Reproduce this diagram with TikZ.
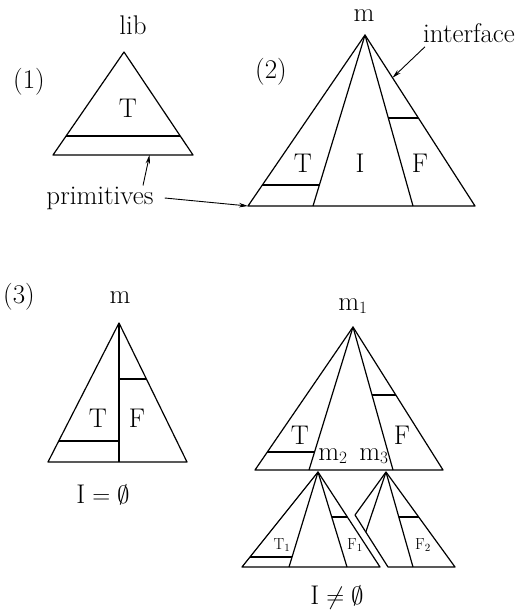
\documentclass[tikz,border=0pt]{standalone}
\usepackage{amssymb}
\usepackage{fontspec}
\usepackage{tikz}
\usetikzlibrary{calc,arrows.meta}

\begin{document}
\begin{tikzpicture}[x=1pt, y=-1pt, every node/.style={font=\fontsize{27}{30}\selectfont, inner sep=1pt},
small/.style={font=\fontsize{16}{18}\selectfont},
tri/.style={line width=1.2pt, line join=round},
ptr/.style={line width=0.9pt, -{Stealth[length=9pt, width=4.5pt]}}]
\useasboundingbox (0,0) rectangle (522,615);
\coordinate (a1) at (124,52);  \coordinate (l1) at (53,155);  \coordinate (r1) at (193,155);
\coordinate (a2) at (365,35);  \coordinate (l2) at (248,206); \coordinate (r2) at (475,206);
\coordinate (u2) at (313,206); \coordinate (v2) at (413,206);
\coordinate (a3) at (119,323); \coordinate (l3) at (48,462);  \coordinate (r3) at (187,462);
\coordinate (u3) at (119,462);
\coordinate (a4) at (353,327); \coordinate (l4) at (255,470); \coordinate (r4) at (443,470);
\coordinate (u4) at (309,470); \coordinate (v4) at (393,470);
\coordinate (a5) at (318,472); \coordinate (l5) at (242,567); \coordinate (r5) at (380,567);
\coordinate (u5) at (289,567); \coordinate (v5) at (347,567);
\coordinate (a6) at (386,472); \coordinate (p6) at (355,515); \coordinate (q6) at (388,567);
\coordinate (r6) at (455,567); \coordinate (v6) at (413,567);

\draw[tri] (a1) -- (l1) -- (r1) -- cycle;
\draw[tri] ($(a1)!.816!(l1)$) -- ($(a1)!.816!(r1)$);
\node (lib) at (133,25) {lib};
\node (n1) at (29,82) {(1)};
\node (t1) at (128,108) {T};

\draw[tri] (a2) -- (l2) -- (r2) -- cycle;
\draw[tri] (u2) -- (a2) -- (v2);
\draw[tri] ($(a2)!.877!(l2)$) -- ($(a2)!.877!(u2)$);
\draw[tri] ($(a2)!.485!(v2)$) -- ($(a2)!.485!(r2)$);
\node (m) at (364,16) {m};
\node (n2) at (271,72) {(2)};
\node (t2) at (303,163) {T};
\node (i2) at (360,163) {I};
\node (f2) at (420,163) {F};
\node (iface) at (469,33) {interface};
\node (prim) at (100,198) {primitives};
\draw[ptr] ([xshift=43pt]prim.north) -- ($(l1)!.69!(r1)$);
\draw[ptr] ([xshift=10pt]prim.east) -- (l2);
\draw[ptr] ([xshift=3pt, yshift=-3pt]iface.south west) -- ($(a2)!.25!(r2)$);

\draw[tri] (a3) -- (l3) -- (r3) -- cycle;
\draw[tri] (a3) -- (u3);
\draw[tri] ($(a3)!.849!(l3)$) -- ($(a3)!.849!(u3)$);
\draw[tri] ($(a3)!.403!(u3)$) -- ($(a3)!.403!(r3)$);
\node (n3) at (19,297) {(3)};
\node (m3top) at (120,298) {m};
\node (t3) at (98,418) {T};
\node (f3) at (137,418) {F};
\node (empty) at (103,495) {$\mathrm{I}=\emptyset$};

\draw[tri] (a4) -- (l4) -- (r4) -- cycle;
\draw[tri] (u4) -- (a4) -- (v4);
\draw[tri] ($(a4)!.874!(l4)$) -- ($(a4)!.874!(u4)$);
\draw[tri] ($(a4)!.476!(v4)$) -- ($(a4)!.476!(r4)$);
\node (m1) at (353,306) {m$_1$};
\node (t4) at (300,435) {T};
\node (f4) at (402,435) {F};
\node (m2) at (333,456) {m$_2$};
\node (m3) at (374,456) {m$_3$};

\draw[tri] (a5) -- (l5) -- (r5) -- cycle;
\draw[tri] (u5) -- (a5) -- (v5);
\draw[tri] ($(a5)!.895!(l5)$) -- ($(a5)!.895!(u5)$);
\draw[tri] ($(a5)!.474!(v5)$) -- ($(a5)!.474!(r5)$);
\node[small] (t5) at (282,545) {T$_1$};
\node[small] (f5) at (355,545) {F$_1$};

\draw[tri] (a6) -- (p6) -- (q6) -- (r6) -- cycle;
\draw[tri] (a6) -- ($(p6)!.327!(q6)$);
\draw[tri] (a6) -- (v6);
\draw[tri] ($(a6)!.474!(v6)$) -- ($(a6)!.474!(r6)$);
\node[small] (f6) at (423,545) {F$_2$};
\node (nonempty) at (337,598) {$\mathrm{I}\neq\emptyset$};
\end{tikzpicture}
\end{document}
